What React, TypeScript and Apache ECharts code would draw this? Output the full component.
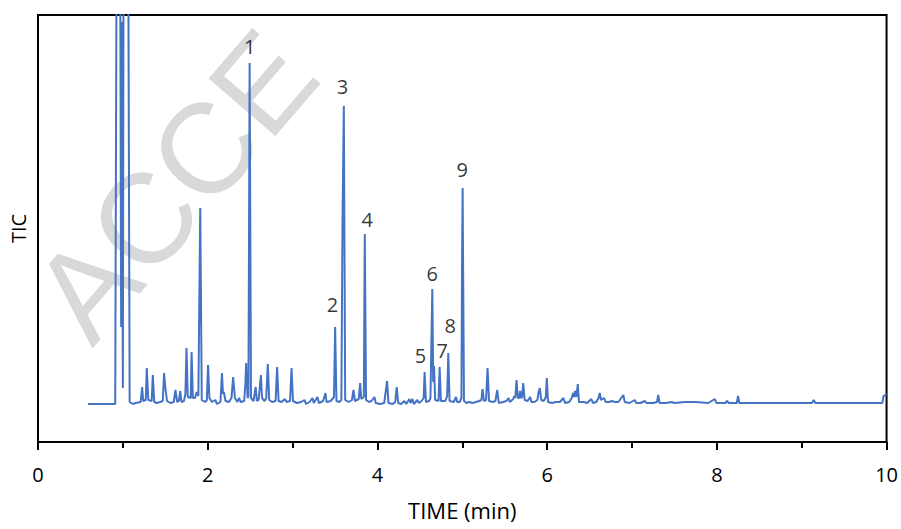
import React, { useEffect, useRef } from "react";
import * as echarts from "echarts";

// Chromatogram trace: [time (min), TIC (arbitrary units)]
const tic: [number, number][] = [
  [0.59, 38], [0.91, 38], [0.93, 600], [0.965, 600], [0.98, 115], [0.99, 420], [1.0, 54], [1.01, 600], [1.06, 600], [1.08, 40],
  [1.12, 38], [1.15, 39], [1.21, 40], [1.227, 55], [1.24, 41], [1.27, 42], [1.282, 74], [1.3, 42], [1.34, 41], [1.353, 67],
  [1.37, 40], [1.4, 39], [1.44, 40], [1.47, 41], [1.486, 69], [1.5, 55], [1.52, 41], [1.56, 39], [1.6, 40], [1.62, 52],
  [1.64, 40], [1.66, 41], [1.676, 51], [1.69, 40], [1.72, 41], [1.737, 48], [1.75, 94], [1.765, 45], [1.8, 44], [1.81, 90],
  [1.825, 44], [1.85, 44], [1.87, 50], [1.89, 46], [1.912, 234], [1.93, 42], [1.97, 40], [1.99, 42], [2.004, 77], [2.02, 44],
  [2.05, 40], [2.09, 42], [2.11, 38], [2.15, 40], [2.168, 69], [2.18, 48], [2.19, 50], [2.21, 41], [2.25, 40], [2.28, 44],
  [2.3, 65], [2.32, 44], [2.35, 40], [2.368, 44], [2.39, 40], [2.43, 41], [2.445, 60], [2.453, 79], [2.47, 44], [2.48, 46],
  [2.494, 379], [2.51, 44], [2.54, 41], [2.565, 55], [2.58, 41], [2.6, 42], [2.627, 67], [2.64, 44], [2.67, 41], [2.69, 44],
  [2.708, 78], [2.725, 42], [2.76, 40], [2.8, 41], [2.818, 75], [2.835, 41], [2.87, 40], [2.909, 43], [2.93, 40], [2.97, 41],
  [2.988, 74], [3.005, 41], [3.05, 39], [3.1, 40], [3.14, 42], [3.16, 38], [3.2, 40], [3.235, 44], [3.25, 39], [3.294, 45],
  [3.31, 39], [3.36, 41], [3.388, 49], [3.4, 40], [3.45, 41], [3.488, 45], [3.502, 115], [3.517, 41], [3.55, 40], [3.575, 42],
  [3.588, 214], [3.604, 336], [3.62, 42], [3.66, 40], [3.7, 42], [3.718, 52], [3.735, 41], [3.78, 43], [3.796, 59], [3.81, 43],
  [3.84, 45], [3.851, 208], [3.866, 42], [3.9, 40], [3.93, 41], [3.965, 45], [3.98, 39], [4.03, 38], [4.08, 39], [4.114, 61],
  [4.13, 39], [4.18, 38], [4.21, 40], [4.227, 55], [4.245, 39], [4.28, 38], [4.318, 41], [4.34, 38], [4.376, 43], [4.39, 39],
  [4.412, 43], [4.43, 38], [4.47, 42], [4.49, 39], [4.52, 41], [4.545, 44], [4.556, 70], [4.572, 40], [4.61, 41], [4.625, 44],
  [4.647, 153], [4.657, 60], [4.667, 76], [4.68, 42], [4.72, 41], [4.733, 75], [4.748, 41], [4.8, 41], [4.822, 46], [4.835, 89],
  [4.85, 41], [4.9, 40], [4.926, 45], [4.94, 40], [4.97, 40], [4.99, 44], [4.997, 175], [5.004, 254], [5.02, 41], [5.05, 39],
  [5.08, 40], [5.12, 39], [5.16, 40], [5.2, 41], [5.225, 42], [5.239, 53], [5.255, 41], [5.28, 42], [5.298, 74], [5.315, 41],
  [5.36, 40], [5.39, 41], [5.412, 52], [5.43, 39], [5.48, 40], [5.52, 41], [5.545, 44], [5.56, 40], [5.6, 43], [5.612, 46],
  [5.625, 44], [5.639, 62], [5.655, 44], [5.67, 44], [5.682, 51], [5.695, 44], [5.705, 45], [5.718, 59], [5.735, 42], [5.77, 41],
  [5.8, 45], [5.815, 40], [5.85, 40], [5.885, 42], [5.9, 50], [5.914, 54], [5.93, 42], [5.96, 41], [5.985, 45], [5.996, 64],
  [6.01, 40], [6.06, 39], [6.1, 40], [6.15, 40], [6.192, 44], [6.21, 39], [6.26, 40], [6.29, 44], [6.306, 49], [6.318, 45],
  [6.329, 51], [6.345, 45], [6.361, 58], [6.375, 40], [6.43, 40], [6.47, 39], [6.521, 43], [6.54, 39], [6.58, 40], [6.605, 44],
  [6.62, 49], [6.635, 42], [6.671, 44], [6.69, 40], [6.73, 40], [6.76, 41], [6.8, 40], [6.84, 40], [6.898, 47], [6.915, 40],
  [6.97, 39], [7.032, 42], [7.05, 39], [7.1, 39], [7.153, 41], [7.17, 39], [7.25, 39], [7.295, 40], [7.309, 47], [7.325, 39],
  [7.4, 39], [7.467, 40], [7.5, 39], [7.624, 40], [7.749, 40], [7.9, 39], [7.976, 43], [7.995, 39], [8.1, 39], [8.121, 41],
  [8.14, 39], [8.235, 39], [8.25, 46], [8.265, 39], [8.6, 39], [9.12, 39], [9.141, 42], [9.16, 39], [9.95, 39], [9.965, 46],
  [10.0, 48],
];

// Peak annotations: label, time, TIC level of the label centre
const peakNames = ["1", "2", "3", "4", "5", "6", "7", "8", "9"];
const peakLabelTime = [2.494, 3.47, 3.588, 3.88, 4.506, 4.647, 4.765, 4.859, 5.0];
const peakLabelLevel = [396, 138, 356, 223, 87, 169, 92, 117, 273];

const xTicks = { min: 0, max: 10, interval: 2 };
const yRange = { min: 0, max: 427 };

const FONT = "'Open Sans', 'Noto Sans', sans-serif";

export default function App() {
  const ref = useRef<HTMLDivElement>(null);

  useEffect(() => {
    if (!ref.current) return;
    const chart = echarts.init(ref.current, undefined, { renderer: "svg" });
    chart.setOption({
      animation: false,
      backgroundColor: "#ffffff",
      textStyle: { fontFamily: FONT },
      graphic: [
        {
          type: "text",
          x: 10,
          y: 278,
          rotation: 0.86,
          z: -10,
          silent: true,
          style: {
            text: "ACCE",
            fill: "#d9d9d9",
            font: "128px 'Liberation Sans', Arial, sans-serif",
            align: "left",
            verticalAlign: "alphabetic",
          },
        },
      ],
      grid: {
        left: 38,
        right: 13,
        top: 15,
        bottom: 87,
        show: true,
        borderColor: "#000",
        borderWidth: 2,
        backgroundColor: "transparent",
      },
      xAxis: {
        type: "value",
        min: xTicks.min,
        max: xTicks.max,
        interval: xTicks.interval,
        name: "TIME (min)",
        nameLocation: "middle",
        nameGap: 57,
        nameTextStyle: { color: "#000", fontSize: 22, fontFamily: FONT },
        axisLine: { show: true, lineStyle: { color: "#000", width: 2 } },
        axisTick: { show: true, inside: false, length: 8, lineStyle: { color: "#000", width: 2 } },
        minorTick: { show: true, splitNumber: 2, length: 6, lineStyle: { color: "#000", width: 2 } },
        axisLabel: { color: "#000", fontSize: 20, margin: 22, fontFamily: FONT },
        splitLine: { show: false },
        minorSplitLine: { show: false },
      },
      yAxis: {
        type: "value",
        min: yRange.min,
        max: yRange.max,
        name: "TIC",
        nameLocation: "middle",
        nameGap: 10,
        nameTextStyle: { color: "#000", fontSize: 20, fontFamily: FONT },
        axisLine: { show: true, lineStyle: { color: "#000", width: 2 } },
        axisTick: { show: false },
        axisLabel: { show: false },
        splitLine: { show: false },
      },
      series: [
        {
          type: "line",
          data: tic,
          showSymbol: false,
          symbol: "none",
          clip: true,
          lineStyle: { color: "#4472C4", width: 2 },
          z: 3,
        },
        {
          type: "scatter",
          data: peakNames.map((n, i) => ({ name: n, value: [peakLabelTime[i], peakLabelLevel[i]] })),
          symbolSize: 0,
          z: 4,
          label: {
            show: true,
            position: "inside",
            formatter: "{b}",
            color: "#000",
            fontSize: 20,
            fontFamily: FONT,
          },
        },
      ],
    });
    return () => chart.dispose();
  }, []);

  return (
    <div
      ref={ref}
      style={{ position: "fixed", left: 0, top: 0, width: 901, height: 529 }}
    />
  );
}
